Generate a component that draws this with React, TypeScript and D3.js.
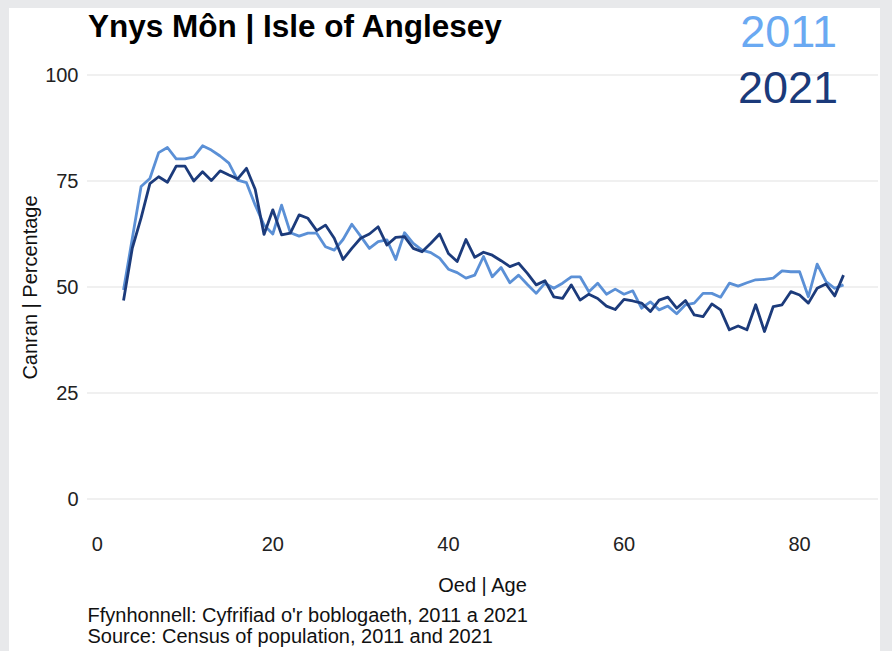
import React from 'react';
import * as d3 from 'd3';

const ages = [
  3, 4, 5, 6, 7, 8, 9, 10, 11, 12, 13, 14, 15, 16, 17, 18, 19, 20, 21, 22,
  23, 24, 25, 26, 27, 28, 29, 30, 31, 32, 33, 34, 35, 36, 37, 38, 39, 40, 41, 42,
  43, 44, 45, 46, 47, 48, 49, 50, 51, 52, 53, 54, 55, 56, 57, 58, 59, 60, 61, 62,
  63, 64, 65, 66, 67, 68, 69, 70, 71, 72, 73, 74, 75, 76, 77, 78, 79, 80, 81, 82,
  83, 84, 85,
];

const values2011 = [
  49.3, 61.5, 73.7, 75.6, 81.7, 82.9, 80.2, 80.2, 80.7, 83.3, 82.3, 80.9, 79.2, 75.2, 74.6, 69.3, 64.6, 62.5, 69.3, 62.8,
  62.0, 62.7, 62.7, 59.5, 58.7, 61.2, 64.8, 62.0, 59.1, 60.7, 61.1, 56.5, 62.8, 60.3, 58.7, 58.1, 56.8, 54.2, 53.4, 52.1,
  52.8, 57.2, 52.4, 54.6, 51.0, 52.8, 50.6, 48.5, 50.9, 49.7, 50.9, 52.4, 52.4, 48.9, 50.9, 48.3, 49.5, 48.3, 49.1, 45.0,
  46.5, 44.6, 45.5, 43.7, 45.8, 46.2, 48.5, 48.5, 47.6, 50.9, 50.2, 51.0, 51.7, 51.8, 52.1, 53.8, 53.6, 53.6, 47.7, 55.4,
  51.3, 49.7, 50.5,
];

const values2021 = [
  46.8, 59.2, 66.3, 74.4, 76.0, 74.7, 78.5, 78.5, 75.0, 77.2, 75.1, 77.4, 76.4, 75.5, 78.0, 73.0, 62.4, 68.2, 62.3, 62.7,
  67.0, 66.2, 63.3, 64.6, 61.5, 56.5, 59.1, 61.5, 62.5, 64.2, 59.9, 61.7, 61.9, 59.1, 58.3, 60.3, 62.5, 57.9, 56.0, 61.2,
  57.0, 58.2, 57.5, 56.2, 54.8, 55.6, 53.2, 50.5, 51.5, 47.7, 47.3, 50.5, 46.9, 48.3, 47.3, 45.5, 44.7, 47.1, 46.7, 46.2,
  44.2, 46.9, 47.6, 45.0, 46.8, 43.4, 43.0, 46.0, 44.6, 39.9, 40.8, 39.9, 45.8, 39.5, 45.4, 45.8, 48.9, 48.1, 46.2, 49.7,
  50.7, 47.9, 52.8,
];

const xTicks = [0, 20, 40, 60, 80];
const yTicks = [0, 25, 50, 75, 100];

const W = 892;
const H = 651;
const FONT = 'Liberation Sans, Arial, sans-serif';

export default function App() {
  const x = d3.scaleLinear().domain([0, 80]).range([97.2, 799.6]);
  const y = d3.scaleLinear().domain([0, 100]).range([499, 75]);

  const line = (vals: number[]) =>
    d3
      .line<number>()
      .x((_, i) => x(ages[i]))
      .y((d) => y(d))(vals) as string;

  return (
    <svg
      width={W}
      height={H}
      style={{ position: 'absolute', left: 0, top: 0, display: 'block' }}
      fontFamily={FONT}
    >
      <rect x={0} y={0} width={W} height={H} fill="#e8e9eb" />
      <rect x={9} y={8} width={871} height={H} fill="#ffffff" />

      {yTicks.map((t) => (
        <g key={t}>
          <line x1={87} x2={878} y1={y(t)} y2={y(t)} stroke="#ebebeb" strokeWidth={1.5} />
          <text x={78.5} y={y(t)} dy="0.35em" textAnchor="end" fontSize={20} fill="#222">
            {t}
          </text>
        </g>
      ))}

      {xTicks.map((t) => (
        <text key={t} x={x(t)} y={551} textAnchor="middle" fontSize={20} fill="#222">
          {t}
        </text>
      ))}

      <path d={line(values2011)} fill="none" stroke="#5b90d6" strokeWidth={2.8} strokeLinejoin="round" />
      <path d={line(values2021)} fill="none" stroke="#1c3b7b" strokeWidth={2.8} strokeLinejoin="round" />

      <text x={88} y={37} fontSize={31.5} fontWeight="bold" fill="#000">
        Ynys Môn | Isle of Anglesey
      </text>

      <text x={837} y={47} textAnchor="end" fontSize={45} fill="#6aa9f2">
        2011
      </text>
      <text x={838} y={103} textAnchor="end" fontSize={45} fill="#1b3a7a">
        2021
      </text>

      <text
        transform={`translate(37,287.5) rotate(-90)`}
        textAnchor="middle"
        fontSize={20}
        fill="#111"
      >
        Canran | Percentage
      </text>

      <text x={482.5} y={591.5} textAnchor="middle" fontSize={20} fill="#111">
        Oed | Age
      </text>

      <text x={87.5} y={622} fontSize={20} fill="#111">
        Ffynhonnell: Cyfrifiad o'r boblogaeth, 2011 a 2021
      </text>
      <text x={87.5} y={643} fontSize={20} fill="#111">
        Source: Census of population, 2011 and 2021
      </text>
    </svg>
  );
}
